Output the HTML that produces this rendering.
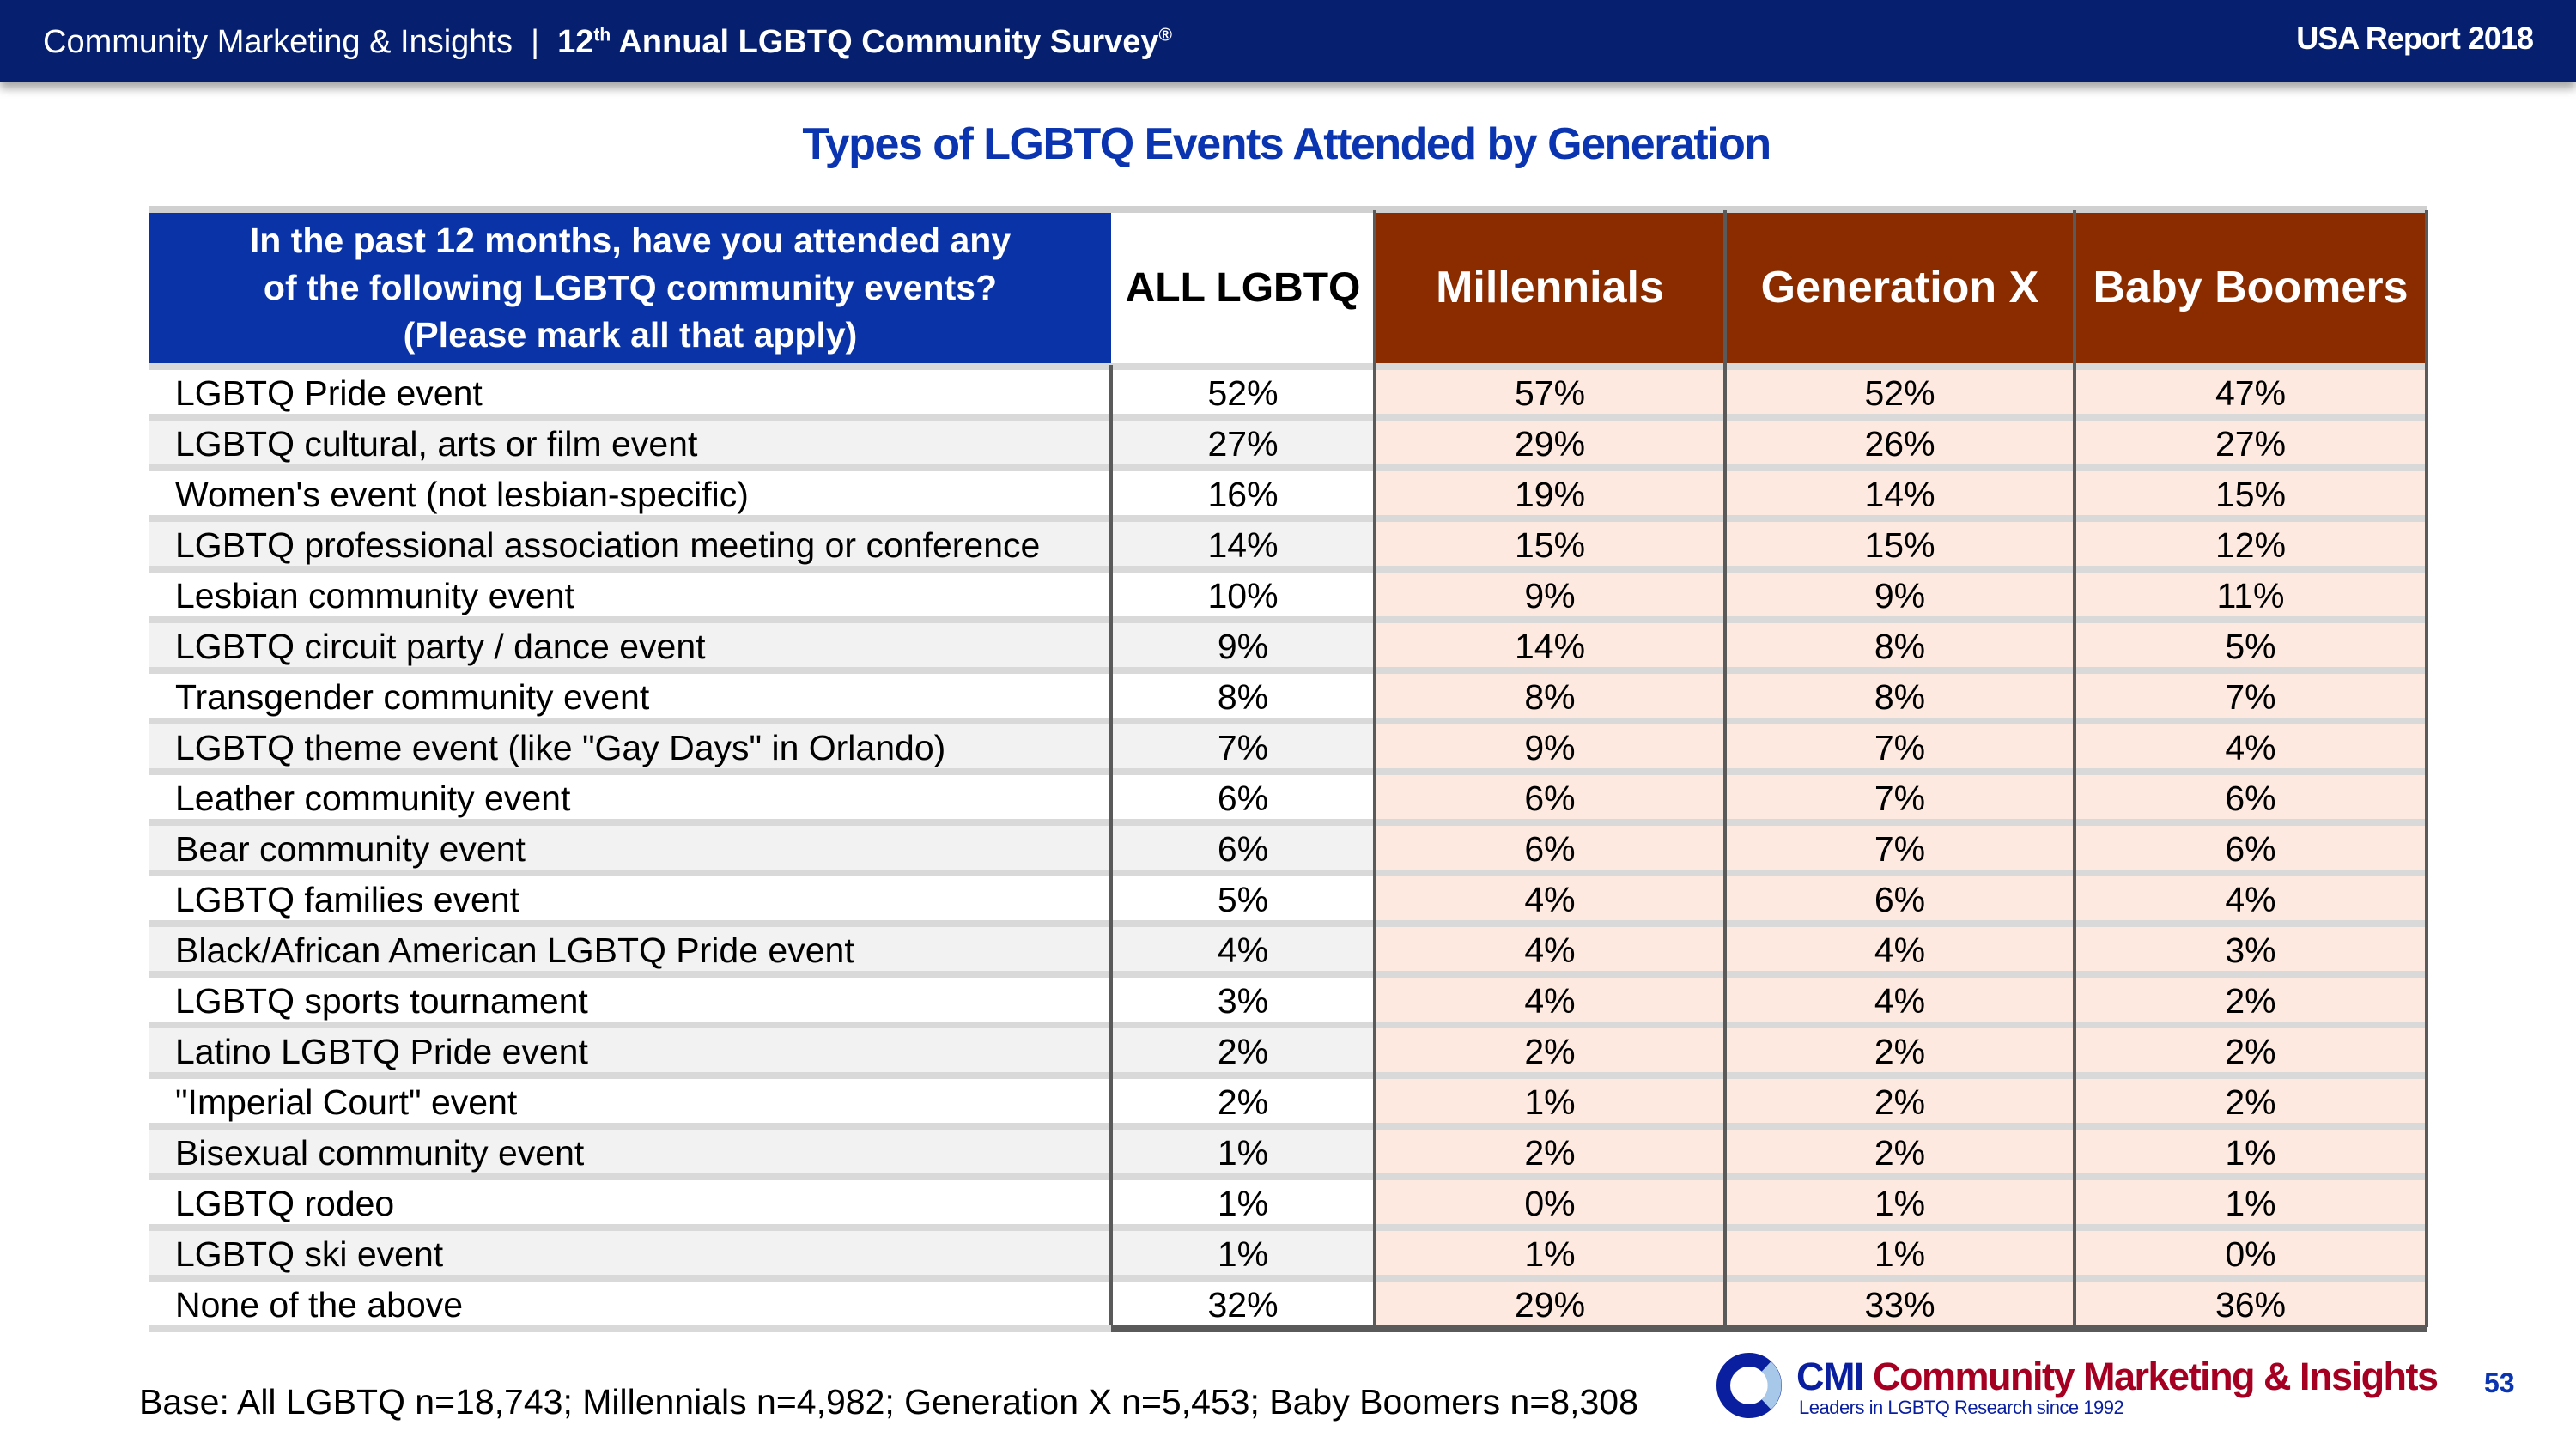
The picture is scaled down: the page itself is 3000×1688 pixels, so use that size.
<!DOCTYPE html>
<html><head><meta charset="utf-8">
<style>
body{margin:0;width:3000px;height:1688px;background:#fff;overflow:hidden;font-family:"Liberation Sans",sans-serif;position:relative}
.abs{position:absolute}
#topbar{left:0;top:0;width:3000px;height:95px;background:#06206f;box-shadow:0 8px 10px rgba(0,0,0,0.35)}
.cell{position:absolute;box-sizing:border-box;display:flex;align-items:center;justify-content:center;font-size:41px;color:#000;padding-top:8px}
.lbl{justify-content:flex-start;padding-left:30px}
</style></head><body>
<div id="topbar" class="abs"></div>
<div class="abs" style="left:50px;top:28px;font-size:38px;color:#fff;white-space:nowrap">Community Marketing &amp; Insights &nbsp;| &nbsp;<b>12<sup style="font-size:21px">th</sup> Annual LGBTQ Community Survey<sup style="font-size:21px">®</sup></b></div>
<div class="abs" style="right:50px;top:24px;font-size:36px;color:#fff;font-weight:bold;letter-spacing:-1px">USA Report 2018</div>
<div class="abs" style="left:0;width:2996px;top:138px;text-align:center;font-size:52px;font-weight:bold;color:#0b35b0;letter-spacing:-1.5px">Types of LGBTQ Events Attended by Generation</div>
<div id="table"></div>
<div class="abs" style="left:162px;top:1610px;font-size:41px">Base: All LGBTQ n=18,743; Millennials n=4,982; Generation X n=5,453; Baby Boomers n=8,308</div>
<svg class="abs" style="left:1995px;top:1572px" width="90" height="90">
<circle cx="42" cy="42" r="30" fill="none" stroke="#0a1fa0" stroke-width="16"/>
<path d="M62 20 A30 30 0 0 1 62 64" fill="none" stroke="#a8c8ea" stroke-width="16"/>
</svg>
<div class="abs" style="left:2092px;top:1578px;font-size:45px;font-weight:bold;white-space:nowrap;letter-spacing:-1.5px"><span style="color:#0a1fa0">CMI</span><span style="color:#a50021"> Community Marketing &amp; Insights</span></div>
<div class="abs" style="left:2095px;top:1627px;font-size:22px;color:#0a1fa0;letter-spacing:-0.5px">Leaders in LGBTQ Research since 1992</div>
<div class="abs" style="left:2893px;top:1593px;font-size:32px;font-weight:bold;color:#0b35b0">53</div>
<script>
const labels=["LGBTQ Pride event","LGBTQ cultural, arts or film event","Women's event (not lesbian-specific)","LGBTQ professional association meeting or conference","Lesbian community event","LGBTQ circuit party / dance event","Transgender community event","LGBTQ theme event (like \"Gay Days\" in Orlando)","Leather community event","Bear community event","LGBTQ families event","Black/African American LGBTQ Pride event","LGBTQ sports tournament","Latino LGBTQ Pride event","\"Imperial Court\" event","Bisexual community event","LGBTQ rodeo","LGBTQ ski event","None of the above"];
const allLgbtq=[52,27,16,14,10,9,8,7,6,6,5,4,3,2,2,1,1,1,32];
const millennials=[57,29,19,15,9,14,8,9,6,6,4,4,4,2,1,2,0,1,29];
const genX=[52,26,14,15,9,8,8,7,7,7,6,4,4,2,2,2,1,1,33];
const boomers=[47,27,15,12,11,5,7,4,6,6,4,3,2,2,2,1,1,0,36];
const headers=["ALL LGBTQ","Millennials","Generation X","Baby Boomers"];
const series=[allLgbtq,millennials,genX,boomers];
const colX=[174,1294,1601,2009,2416,2826];
const top0=245,hdrBottom=425,rowH=59;
const T=document.getElementById('table');
function box(x,y,w,h,bg,cls,txt){const d=document.createElement('div');d.className='cell '+(cls||'');d.style.left=x+'px';d.style.top=y+'px';d.style.width=w+'px';d.style.height=h+'px';d.style.background=bg;if(txt!==undefined)d.textContent=txt;T.appendChild(d);return d;}
let q=box(colX[0],top0,colX[1]-colX[0],hdrBottom-top0,'#0a33a8');
q.innerHTML='In the past 12 months, have you attended any<br>of the following LGBTQ community events?<br>(Please mark all that apply)';
q.style.cssText+='color:#fff;font-weight:bold;text-align:center;font-size:41px;line-height:55px;padding-top:0';


headers.forEach((h,i)=>{const c=box(colX[i+1],top0,colX[i+2]-colX[i+1],hdrBottom-top0,i==0?'#fff':'#8b2c00',null,h);c.style.fontWeight='bold';c.style.fontSize=i==0?'48px':'52px';c.style.paddingTop='0';c.style.color=i==0?'#000':'#fff';

});
let tl=box(colX[0],top0-5,colX[5]-colX[0],5,'#d0d0d0');


labels.forEach((l,r)=>{const y=hdrBottom+r*rowH;const bg=r%2?'#f2f2f2':'#fff';
const a=box(colX[0],y,colX[1]-colX[0],rowH,bg,'lbl',l);


series.forEach((s,i)=>{const c=box(colX[i+1],y,colX[i+2]-colX[i+1],rowH,i==0?bg:'#fde9df',null,s[r]+'%');

});
const sep=box(colX[0],y-2,colX[5]-colX[0],5,'#d9d9d9');

});
const bottom=hdrBottom+labels.length*rowH;
for(let i=1;i<6;i++){const v=box(colX[i]-2,i==1?hdrBottom:top0,4,bottom-(i==1?hdrBottom:top0),'#5a5a5a');

}
const bb=box(colX[1]-2,bottom-2,colX[5]-colX[1]+2,5,'#5a5a5a');


const bl=box(colX[0],bottom-2,colX[1]-colX[0],4,'#d9d9d9');


</script>
</body></html>
